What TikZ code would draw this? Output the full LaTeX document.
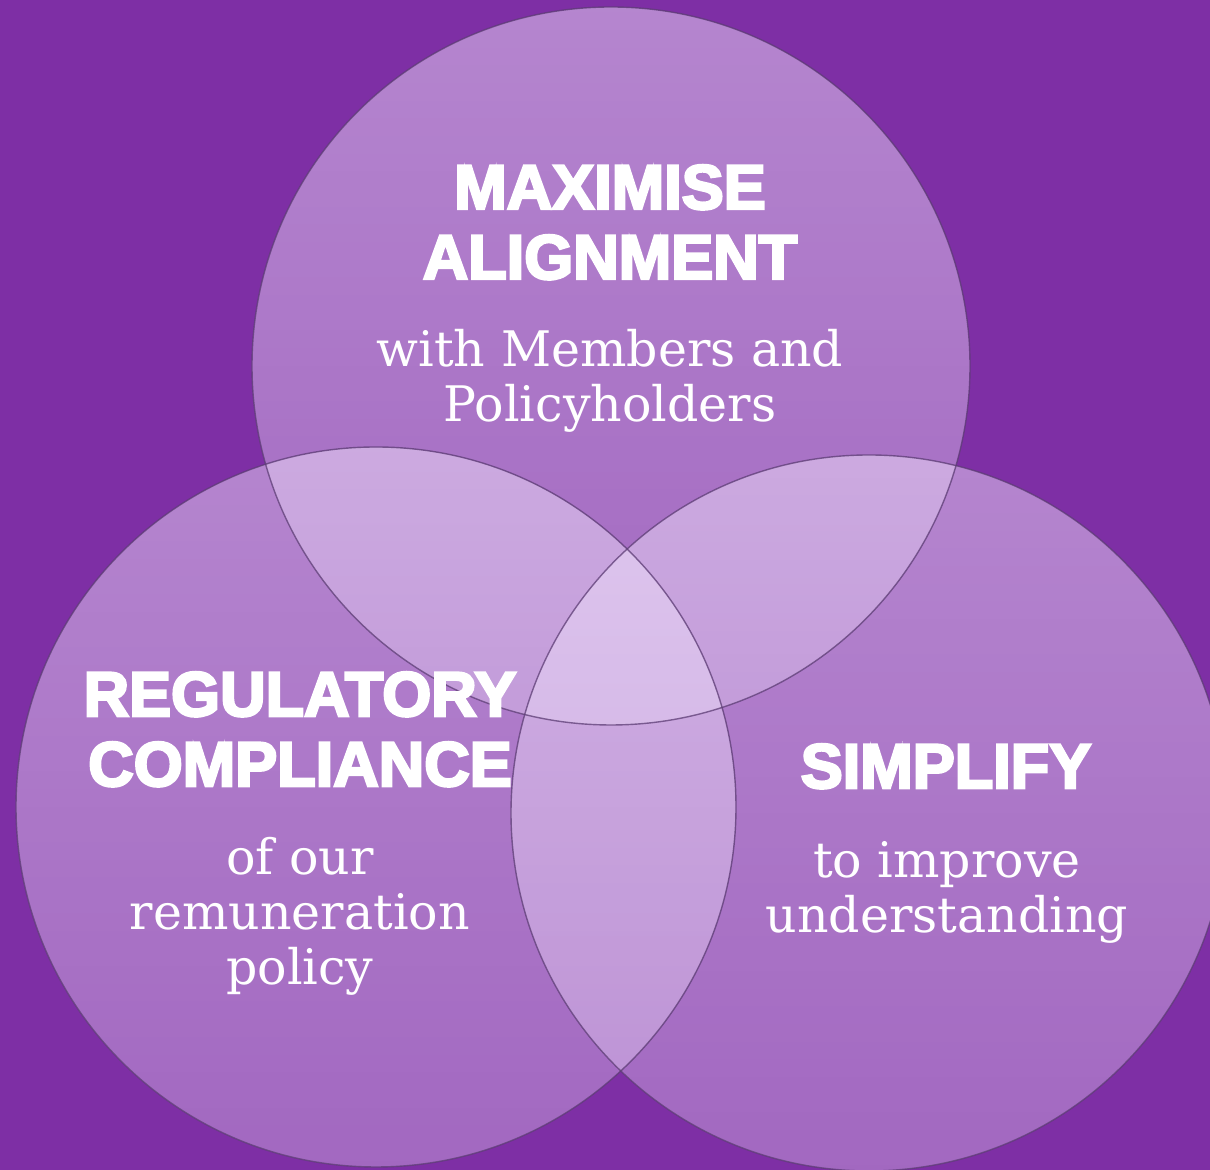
\documentclass[tikz,border=0pt]{standalone}
\usepackage{fontspec}
\setmainfont{DejaVu Serif}
\newfontfamily\headfont{Liberation Sans Bold}[FakeBold=4]
\usetikzlibrary{fadings}
\definecolor{plum}{RGB}{126,47,165}
\definecolor{glass}{RGB}{244,232,255}
\definecolor{rim}{RGB}{92,60,116}
\tikzfading[name=glassdown, top color=transparent!53, bottom color=transparent!69]
\tikzset{
  bubble/.style={fill=glass, path fading=glassdown},
  rimline/.style={draw=rim, line width=0.7pt, draw opacity=0.75},
  head/.style={font=\headfont\fontsize{31.5}{35}\selectfont, text=white,
               align=center, anchor=base, inner sep=0pt},
  blurb/.style={font=\fontsize{24.5}{27.5}\selectfont, text=white,
               align=center, anchor=base, inner sep=0pt},
}
\begin{document}
\begin{tikzpicture}[x=0.5pt,y=0.5pt]
  \fill[plum] (0,0) rectangle (1210,1170);
  \useasboundingbox (0,0) rectangle (1210,1170);

  % three overlapping glass discs
  \foreach \cx/\cy/\r in {611/804/359, 376/363/360, 869/357/358} {
    \fill[bubble] (\cx,\cy) circle[radius=\r*0.5pt];
  }
  \foreach \cx/\cy/\r in {611/804/359, 376/363/360, 869/357/358} {
    \draw[rimline] (\cx,\cy) circle[radius=\r*0.5pt];
  }

  % labels sit on the baseline of their last line
  \node[head]  (maxhead) at (610,891) {MAXIMISE\\ALIGNMENT};
  \node[blurb] (maxtext) at (610,748) {with Members and\\Policyholders};

  \node[head]  (reghead) at (300,384) {REGULATORY\\COMPLIANCE};
  \node[blurb] (regtext) at (300,185) {of our\\remuneration\\policy};

  \node[head]  (simhead) at (946,382) {SIMPLIFY};
  \node[blurb] (simtext) at (947,237) {to improve\\understanding};
\end{tikzpicture}
\end{document}
